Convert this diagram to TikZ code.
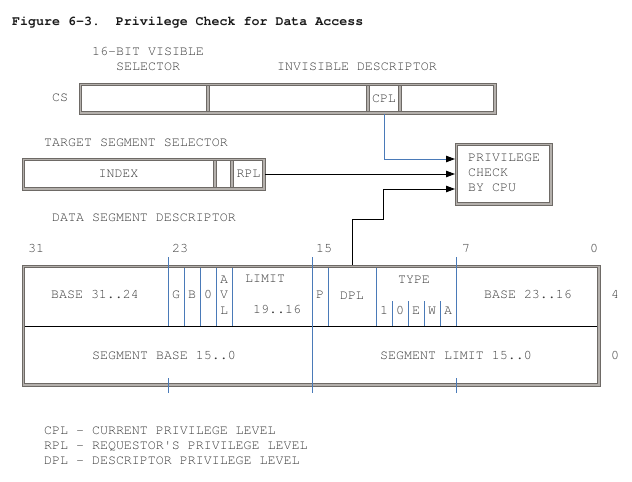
\documentclass[tikz,border=0pt]{standalone}
\usepackage{fontspec}
\setmainfont{TeX Gyre Cursor}[Ligatures=TeXOff]
\usetikzlibrary{arrows.meta}
\definecolor{bline}{HTML}{4A7AB8}
\definecolor{tx}{HTML}{3C3C3C}
\definecolor{bord}{HTML}{6E6A66}
\definecolor{band}{HTML}{B4B0AC}
\begin{document}
\begin{tikzpicture}[x=1pt,y=-1pt,
  t/.style={font=\fontsize{13.3}{15}\selectfont, text=tx, inner sep=0pt, anchor=mid},
  tw/.style={t, anchor=mid west},
  cell/.style={t, anchor=center, text height=7.6pt, text depth=0pt},
  boxn/.style={inner sep=0pt, outer sep=0pt},
  frm/.style={draw=bord, line width=0.8pt},
  bl/.style={draw=bline, line width=0.9pt},
  arr/.style={line width=0.9pt, -{Triangle[length=9pt,width=6.5pt,color=black]}}
]
\fill[white] (0,0) rectangle (632,482);
\useasboundingbox (0,0) rectangle (632,482);

% title
\node[tw, font=\fontsize{13.3}{15}\selectfont\bfseries, text=black!90] (title) at (12,23) {Figure 6-3.\ \ Privilege Check for Data Access};

% box outlines (named nodes)
\node[boxn, minimum width=417pt, minimum height=31pt] (cs) at (287.5,98.5) {};
\node[boxn, minimum width=243pt, minimum height=32pt] (tgt) at (143.5,174) {};
\node[boxn, minimum width=97pt, minimum height=62pt] (priv) at (503.5,174) {};
\node[boxn, minimum width=578pt, minimum height=121pt] (desc) at (311,325.5) {};
\foreach \n in {cs,tgt,priv,desc} {
  \fill[band, even odd rule] (\n.south west) rectangle (\n.north east)
     ([xshift=2.6pt,yshift=2.6pt]\n.south west) rectangle ([xshift=-2.6pt,yshift=-2.6pt]\n.north east);
  \draw[frm] (\n.south west) rectangle (\n.north east);
  \draw[frm] ([xshift=2.6pt,yshift=2.6pt]\n.south west) rectangle ([xshift=-2.6pt,yshift=-2.6pt]\n.north east);
}

% CS register
\node[tw] (vis1) at (92,53) {16-BIT VISIBLE};
\node[tw] (vis2) at (116,68) {SELECTOR};
\node[tw] (invis) at (277,68) {INVISIBLE DESCRIPTOR};
\node[tw] (cslbl) at (52,99) {CS};
\foreach \x in {208,368,400} {
  \fill[band] (\x-1.3,85.6) rectangle (\x+1.3,111.4);
  \draw[frm] (\x-1.3,85.6) -- (\x-1.3,111.4); \draw[frm] (\x+1.3,85.6) -- (\x+1.3,111.4);}
\node[cell, minimum width=32pt, minimum height=31pt] (cpl) at (384,98.5) {CPL};

% target selector
\node[tw] (tgtlbl) at (44,144) {TARGET SEGMENT SELECTOR};
\foreach \x in {215,232} {
  \fill[band] (\x-1.3,160.6) rectangle (\x+1.3,187.4);
  \draw[frm] (\x-1.3,160.6) -- (\x-1.3,187.4); \draw[frm] (\x+1.3,160.6) -- (\x+1.3,187.4);}
\node[cell, minimum width=193pt, minimum height=32pt] (index) at (118.5,174) {INDEX};
\node[cell, minimum width=33pt, minimum height=32pt] (rpl) at (248.5,174) {RPL};

% privilege check
\node[tw] (pc1) at (468,159) {PRIVILEGE};
\node[tw] (pc2) at (468,174) {CHECK};
\node[tw] (pc3) at (468,189) {BY CPU};
\coordinate (in1) at (455,159);
\coordinate (in2) at (455,174);
\coordinate (in3) at (455,189);
\coordinate (jog) at (383,219);

% descriptor
\node[tw] (dsd) at (52,219) {DATA SEGMENT DESCRIPTOR};
\node[tw] (b31) at (28,250) {31};
\node[tw] (b23) at (172,250) {23};
\node[tw] (b15) at (316,250) {15};
\node[tw] (b7) at (462,250) {7};
\node[tw] (b0) at (590,250) {0};
\draw[black, line width=0.8pt] (24.6,326) -- (597.4,326);
\foreach \x in {168,456} {\draw[bl] (\x,257) -- (\x,326); \draw[bl] (\x,378) -- (\x,393);}
\draw[bl] (312,257) -- (312,393);
\foreach \x in {184,200,216,232,328,376} \draw[bl] (\x,267.6) -- (\x,326);
\foreach \x in {392,408,424,440} \draw[bl] (\x,301) -- (\x,326);

\node[cell] (base3124) at (95,295) {BASE 31..24};
\node[cell] (g) at (176,295) {G};
\node[cell] (b) at (192,295) {B};
\node[cell] (z) at (208,295) {0};
\node[cell] (avla) at (224,280) {A};
\node[cell] (avlv) at (224,295) {V};
\node[cell] (avll) at (224,311) {L};
\node[tw] (lim) at (245,280) {LIMIT};
\node[tw] (lim2) at (253,311) {19..16};
\node[cell] (p) at (320,295) {P};
\node[cell, minimum width=48pt, minimum height=61pt] (dpl) at (352,295.5) {DPL};
\node[cell] (type) at (414,280) {TYPE};
\node[cell] (t1) at (384,311) {1};
\node[cell] (t0) at (400,311) {0};
\node[cell] (te) at (416,311) {E};
\node[cell] (tww) at (432,311) {W};
\node[cell] (ta) at (448,311) {A};
\node[cell] (base2316) at (528,295) {BASE 23..16};
\node[cell] (sbase) at (164,356) {SEGMENT BASE 15..0};
\node[cell] (slim) at (456,356) {SEGMENT LIMIT 15..0};
\node[cell] (off4) at (615,295) {4};
\node[cell] (off0) at (615,356) {0};

% connectors
\draw[arr, draw=bline] (cpl.south) |- (in1);
\draw[arr] (rpl.east) -- (in2);
\draw[arr] (dpl.north) |- (jog) |- (in3);

% legend
\node[tw] (l1) at (44,432) {CPL - CURRENT PRIVILEGE LEVEL};
\node[tw] (l2) at (44,447) {RPL - REQUESTOR'S PRIVILEGE LEVEL};
\node[tw] (l3) at (44,462) {DPL - DESCRIPTOR PRIVILEGE LEVEL};
\end{tikzpicture}
\end{document}
